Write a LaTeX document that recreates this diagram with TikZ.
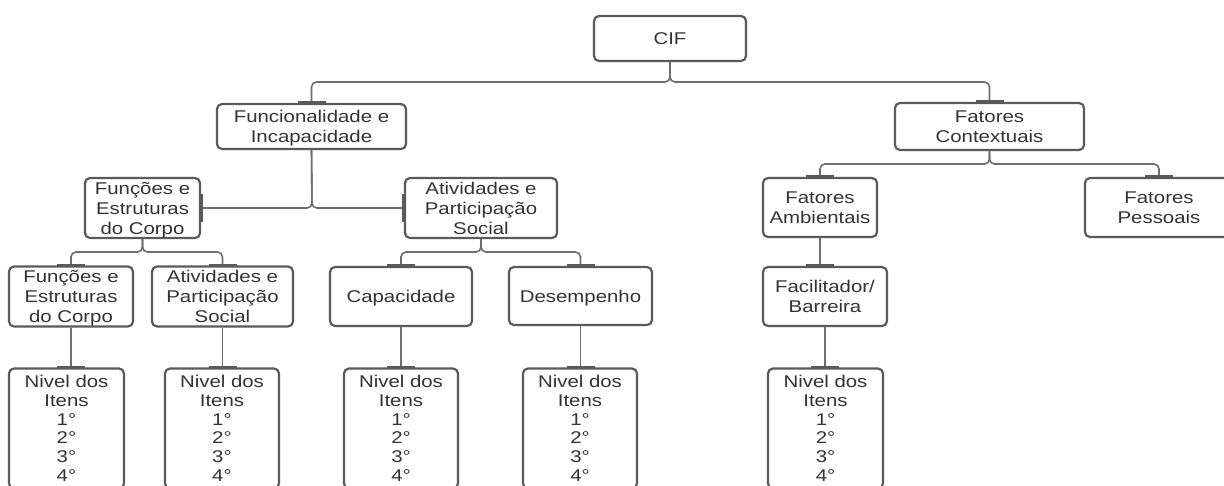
\documentclass[tikz,border=0pt]{standalone}
\usepackage{fontspec}
\usepackage{array}
\setmainfont{Liberation Sans}[FakeStretch=1.2]
\definecolor{boxc}{HTML}{5A5A5A}
\definecolor{linec}{HTML}{6E6E6E}
\definecolor{txtc}{HTML}{333333}
\newcommand{\strutA}{\rule[-3.9pt]{0pt}{20pt}}
\newcommand{\strutB}{\rule[-3.25pt]{0pt}{18.7pt}}
\newcommand{\mlA}[1]{{\renewcommand{\arraystretch}{0}\setlength{\extrarowheight}{0pt}\begin{tabular}{@{}>{\strutA}c@{}}#1\end{tabular}}}
\newcommand{\mlB}[1]{{\renewcommand{\arraystretch}{0}\setlength{\extrarowheight}{0pt}\begin{tabular}{@{}>{\strutB}c@{}}#1\end{tabular}}}
\begin{document}
\begin{tikzpicture}[x=1pt,y=-1pt,
  box/.style={draw=boxc,line width=2.2pt,rounded corners=5pt,fill=white,text=txtc,inner sep=0pt,font=\fontsize{17}{20}\selectfont},
  lvl/.style={box,overlay,minimum height=120pt,font=\fontsize{17}{18.7}\selectfont},
  conn/.style={draw=linec,line width=1.6pt,rounded corners=5pt},
  bar/.style={draw=boxc,line width=3.5pt}]
\useasboundingbox (0,0) rectangle (1224,485);
\clip (0,0) rectangle (1224,485);
\fill[white] (0,0) rectangle (1224,485);

% nodes
\node[box,minimum width=152pt,minimum height=45pt] (cif) at (670,38.5) {\mlA{CIF}};
\node[box,minimum width=189pt,minimum height=45pt] (func) at (311.5,126.5) {\mlA{Funcionalidade e\\Incapacidade}};
\node[box,minimum width=189pt,minimum height=47pt] (ctx) at (989.5,126.5) {\mlA{Fatores\\Contextuais}};
\node[box,minimum width=115pt,minimum height=60pt] (fec2) at (142.5,208) {\mlA{Funções e\\Estruturas\\do Corpo}};
\node[box,minimum width=152pt,minimum height=60pt] (aps2) at (481,208) {\mlA{Atividades e\\Participação\\Social}};
\node[box,minimum width=124pt,minimum height=59pt] (fec3) at (71,296.5) {\mlA{Funções e\\Estruturas\\do Corpo}};
\node[box,minimum width=141pt,minimum height=59pt] (aps3) at (222.5,296.5) {\mlA{Atividades e\\Participação\\Social}};
\node[box,minimum width=142pt,minimum height=59pt] (cap) at (401,296.5) {\mlA{Capacidade}};
\node[box,minimum width=143pt,minimum height=58pt] (des) at (580.5,296) {\mlA{Desempenho}};
\node[box,minimum width=114pt,minimum height=59pt] (amb) at (820,207.5) {\mlA{Fatores\\Ambientais}};
\node[box,overlay,minimum width=160pt,minimum height=59pt] (pes) at (1165,207.5) {\hspace*{-12pt}\mlA{Fatores\\Pessoais}};
\node[box,minimum width=124pt,minimum height=59pt] (fac) at (825,296.5) {\mlA{Facilitador/\\Barreira}};

\node[lvl,minimum width=115pt] (n1) at (66.5,428.5) {\mlB{Nivel dos\\Itens\\1°\\2°\\3°\\4°}};
\node[lvl,minimum width=114pt] (n2) at (222,428.5) {\mlB{Nivel dos\\Itens\\1°\\2°\\3°\\4°}};
\node[lvl,minimum width=114pt] (n3) at (401,428.5) {\mlB{Nivel dos\\Itens\\1°\\2°\\3°\\4°}};
\node[lvl,minimum width=114pt] (n4) at (580,428.5) {\mlB{Nivel dos\\Itens\\1°\\2°\\3°\\4°}};
\node[lvl,minimum width=115pt] (n5) at (825.5,428.5) {\mlB{Nivel dos\\Itens\\1°\\2°\\3°\\4°}};

% junctions
\coordinate (j0) at (670,82);
\coordinate (j1) at (312,208);
\coordinate (j2) at (142.5,252);
\coordinate (j3) at (481,252);
\coordinate (j4) at (989.5,164);
\coordinate (fb) at (amb.south |- fac.north);
\coordinate (pb) at (1159,0 |- pes.north);

% connectors
\draw[conn] (cif.south) -- (j0) -| (func.north);
\draw[conn] (cif.south) -- (j0) -| (ctx.north);
\draw[conn] (func.south) -- (j1) -- (fec2.east);
\draw[conn] (func.south) -- (j1) -- (aps2.west);
\draw[conn] (fec2.south) -- (j2) -| (fec3.north);
\draw[conn] (fec2.south) -- (j2) -| (aps3.north);
\draw[conn] (aps2.south) -- (j3) -| (cap.north);
\draw[conn] (aps2.south) -- (j3) -| (des.north);
\draw[conn] (ctx.south) -- (j4) -| (amb.north);
\draw[conn] (ctx.south) -- (j4) -| (pb);
\draw[conn] (amb.south) -- (fb);
\draw[conn] (fec3.south) -- (fec3.south |- n1.north);
\draw[conn] (aps3.south) -- (aps3.south |- n2.north);
\draw[conn] (cap.south) -- (cap.south |- n3.north);
\draw[conn] (des.south) -- (des.south |- n4.north);
\draw[conn] (fac.south) -- (fac.south |- n5.north);

% end bars
\foreach \n in {func,ctx,fec3,aps3,cap,des,amb}
  \draw[bar] ([xshift=-14pt]\n.north) -- ([xshift=14pt]\n.north);
\draw[bar] ([xshift=-14pt]pb) -- ([xshift=14pt]pb);
\draw[bar] ([xshift=-14pt]fb) -- ([xshift=14pt]fb);
\draw[bar] ([yshift=-14pt]fec2.east) -- ([yshift=14pt]fec2.east);
\draw[bar] ([yshift=-14pt]aps2.west) -- ([yshift=14pt]aps2.west);
\foreach \p/\n in {fec3/n1,aps3/n2,cap/n3,des/n4,fac/n5}
  \draw[bar] ([xshift=-14pt]\p.south |- \n.north) -- ([xshift=14pt]\p.south |- \n.north);
\end{tikzpicture}
\end{document}
